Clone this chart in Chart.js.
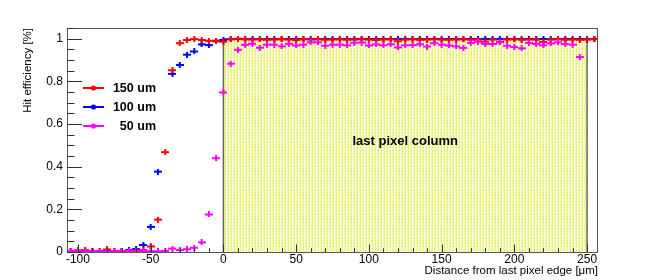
<!DOCTYPE html>
<html>
<head>
<meta charset="utf-8">
<script src="https://cdn.jsdelivr.net/npm/chart.js@4.4.1/dist/chart.umd.min.js"></script>
<style>
html, body { margin: 0; padding: 0; background: #fff; }
#wrap { width: 664px; height: 280px; }
</style>
</head>
<body>
<div id="wrap"><canvas id="c" width="664" height="280"></canvas></div>
<script>
// bin centres, 5 um steps
const distances = [
    -105, -100, -95, -90, -85, -80, -75, -70, -65, -60, -55, -50, -45, -40, -35, -30, -25, -20, -15, -10, -5,
    0, 5, 10, 15, 20, 25, 30, 35, 40, 45, 50, 55, 60, 65, 70, 75, 80, 85, 90, 95, 100, 105, 110, 115, 120,
    125, 130, 135, 140, 145, 150, 155, 160, 165, 170, 175, 180, 185, 190, 195, 200, 205, 210, 215, 220,
    225, 230, 235, 240, 245, 250, 255
];

const eff150 = [
    0.005, 0.008, 0.009, 0.004, 0.003, 0.012, 0.004, 0.005, 0.006, 0.007, 0.009, 0.026, 0.152, 0.468, 0.852, 0.979, 0.994, 0.998, 0.994, 0.990, 0.991,
    0.986, 0.997, 1.000, 0.997, 0.996, 0.997, 0.995, 0.996, 0.997, 0.996, 0.994, 0.997, 0.996, 0.997, 0.995, 0.996, 0.997, 0.995, 0.996, 0.997, 0.996, 0.994, 0.996, 0.997, 0.988,
    0.996, 0.997, 0.995, 0.996, 0.997, 0.996, 0.995, 0.996, 0.997, 0.995, 0.996, 0.986, 0.996, 0.985, 0.996, 0.997, 0.995, 0.996, 0.996, 0.984,
    0.996, 0.997, 0.995, 0.996, 0.995, 0.996, 0.997
];

const eff100 = [
    0.004, 0.003, 0.003, 0.004, 0.003, 0.004, 0.003, 0.005, 0.009, 0.014, 0.033, 0.118, 0.377, null, 0.835, 0.877, 0.925, 0.940, 0.973, 0.970, 0.988,
    0.994, 0.998, 0.999, 0.998, 0.999, 0.998, 0.998, 0.999, 0.998, 0.999, 0.998, 0.998, 0.999, 0.998, 0.999, 0.998, 0.998, 0.999, 0.998, 0.999, 0.998, 0.998, 0.999, 0.998, 0.999,
    0.998, 0.998, 0.999, 0.998, 0.999, 0.998, 0.998, 0.999, 0.998, 0.999, 0.998, 0.998, 0.999, 0.998, 0.999, 0.998, 0.998, 0.999, 0.998, 0.999,
    0.998, 0.998, 0.999, 0.998, 0.999, 0.998, 0.999
];

const eff50 = [
    0.005, 0.004, 0.003, 0.004, 0.003, 0.002, 0.003, 0.004, 0.005, 0.003, 0.004, 0.004, 0.003, 0.005, 0.016, 0.009, 0.013, 0.020, 0.045, 0.176, 0.440,
    0.748, 0.883, 0.948, 0.971, 0.976, 0.958, 0.972, 0.972, 0.964, 0.976, 0.968, 0.972, 0.983, 0.983, 0.967, 0.972, 0.972, 0.969, 0.981, 0.982, 0.968, 0.973, 0.969, 0.974, 0.959,
    0.969, 0.970, 0.974, 0.963, 0.979, 0.972, 0.968, 0.964, 0.957, 0.980, 0.986, 0.975, 0.975, 0.983, 0.967, 0.961, 0.955, 0.980, 0.975, 0.969,
    0.978, 0.983, 0.975, 0.972, 0.914, null, null
];

const seriesLabels = ["150 um", "100 um", "50 um"];
const seriesColors = ["#ff0000", "#0000ff", "#ff00ff"];
const drawOrder = [2, 3, 1]; // blue first, then red, magenta on top
const columnRange = [0, 250];
const columnLabel = "last pixel column";
const columnLabelAt = [125, 0.52];
const yTitle = "Hit efficiency [%]";
const xTitle = "Distance from last pixel edge [\u03bcm]";

const font = '"Liberation Sans", Arial, sans-serif';

function makeCross(color) {
    const c = document.createElement("canvas");
    c.width = 8;
    c.height = 6;
    const g = c.getContext("2d");
    g.fillStyle = color;
    g.fillRect(0, 2, 8, 2);
    g.fillRect(3, 0, 2, 6);
    return c;
}

function makeHatch(ctx) {
    const c = document.createElement("canvas");
    c.width = 3;
    c.height = 3;
    const g = c.getContext("2d");
    g.fillStyle = "#fbfde6";
    g.fillRect(0, 0, 3, 3);
    g.fillStyle = "#e6f04c";
    g.fillRect(0, 0, 1, 2);
    g.fillStyle = "#f3f7bc";
    g.fillRect(0, 2, 1, 1);
    g.fillStyle = "#eef4a4";
    g.fillRect(2, 0, 1, 1);
    g.fillRect(2, 2, 1, 1);
    return ctx.createPattern(c, "repeat");
}

function points(values) {
    return distances.map((x, i) => ({ x: x, y: values[i] }));
}

const rootDecor = {
    id: "rootDecor",
    beforeDatasetsDraw(chart) {
        const { ctx, scales: { x, y } } = chart;
        const x0 = x.getPixelForValue(columnRange[0]);
        const x1 = x.getPixelForValue(columnRange[1]);
        const yTop = y.getPixelForValue(1);
        const yBot = y.getPixelForValue(0);
        ctx.save();
        ctx.fillStyle = makeHatch(ctx);
        ctx.fillRect(x0, yTop, x1 - x0, yBot - yTop);
        ctx.strokeStyle = "#666";
        ctx.lineWidth = 1.5;
        ctx.beginPath();
        ctx.moveTo(x0, yBot);
        ctx.lineTo(x0, yTop);
        ctx.lineTo(x1, yTop);
        ctx.lineTo(x1, yBot);
        ctx.stroke();
        ctx.restore();
    },
    afterDatasetsDraw(chart) {
        const { ctx, chartArea: a, scales: { x, y } } = chart;
        ctx.save();
        ctx.fillStyle = "#000";
        ctx.font = "bold 13px " + font;
        ctx.textAlign = "center";
        ctx.textBaseline = "middle";
        ctx.fillText(columnLabel, x.getPixelForValue(columnLabelAt[0]), y.getPixelForValue(columnLabelAt[1]));

        // frame
        ctx.strokeStyle = "#555";
        ctx.lineWidth = 1;
        ctx.strokeRect(a.left + 0.5, a.top + 0.5, a.right - a.left - 1, a.bottom - a.top);

        // inward ticks
        ctx.strokeStyle = "#333";
        ctx.beginPath();
        for (let k = 0; k <= 21; k++) {
            const v = k * 0.05;
            const py = Math.round(y.getPixelForValue(v)) + 0.5;
            const len = k % 4 === 0 ? 15 : 7.5;
            ctx.moveTo(a.left, py);
            ctx.lineTo(a.left + len, py);
        }
        for (let v = -100; v <= 250; v += 10) {
            const px = Math.round(x.getPixelForValue(v)) + 0.5;
            const len = v % 50 === 0 ? 7.5 : 3.8;
            ctx.moveTo(px, a.bottom);
            ctx.lineTo(px, a.bottom - len);
        }
        ctx.stroke();

        // legend
        ctx.font = "bold 12.5px " + font;
        ctx.textAlign = "right";
        seriesLabels.forEach((label, i) => {
            const ly = a.top + 60 + i * 19;
            ctx.strokeStyle = seriesColors[i];
            ctx.fillStyle = seriesColors[i];
            ctx.lineWidth = 2;
            ctx.beginPath();
            ctx.moveTo(a.left + 16, ly);
            ctx.lineTo(a.left + 37, ly);
            ctx.stroke();
            ctx.beginPath();
            ctx.arc(a.left + 26.5, ly, 2.6, 0, Math.PI * 2);
            ctx.fill();
            ctx.fillStyle = "#000";
            ctx.fillText(label, a.left + 89, ly + 0.5);
        });

        // axis titles
        ctx.font = "11.5px " + font;
        ctx.fillStyle = "#000";
        ctx.textAlign = "right";
        ctx.textBaseline = "middle";
        ctx.fillText(xTitle, a.right, 271);
        ctx.translate(28, a.top);
        ctx.rotate(-Math.PI / 2);
        ctx.fillText(yTitle, 0, 0);
        ctx.restore();
    }
};

function makeDataset(values, i) {
    return {
        label: seriesLabels[i],
        data: points(values),
        showLine: false,
        pointStyle: makeCross(seriesColors[i]),
        borderColor: seriesColors[i],
        backgroundColor: seriesColors[i],
        order: drawOrder[i]
    };
}

new Chart(document.getElementById("c"), {
    type: "scatter",
    data: {
        datasets: [makeDataset(eff150, 0), makeDataset(eff100, 1), makeDataset(eff50, 2)]
    },
    options: {
        responsive: false,
        animation: false,
        devicePixelRatio: 1,
        layout: { padding: { left: 0, right: 66, top: 28, bottom: 0 } },
        plugins: { legend: { display: false }, tooltip: { enabled: false } },
        scales: {
            x: {
                type: "linear",
                min: -107.5,
                max: 257.5,
                grid: { display: false, drawTicks: false },
                border: { display: false },
                ticks: { stepSize: 50, includeBounds: false, padding: 0, color: "#000", font: { family: font, size: 12 }, maxRotation: 0 },
                afterFit(scale) { scale.height = 28; }
            },
            y: {
                min: 0,
                max: 1.05,
                grid: { display: false, drawTicks: false },
                border: { display: false },
                ticks: {
                    stepSize: 0.2,
                    includeBounds: false,
                    padding: 4,
                    color: "#000",
                    font: { family: font, size: 12 },
                    callback: (v) => String(Math.round(v * 10) / 10)
                },
                afterFit(scale) { scale.width = 67; }
            }
        }
    },
    plugins: [rootDecor]
});
</script>
</body>
</html>
